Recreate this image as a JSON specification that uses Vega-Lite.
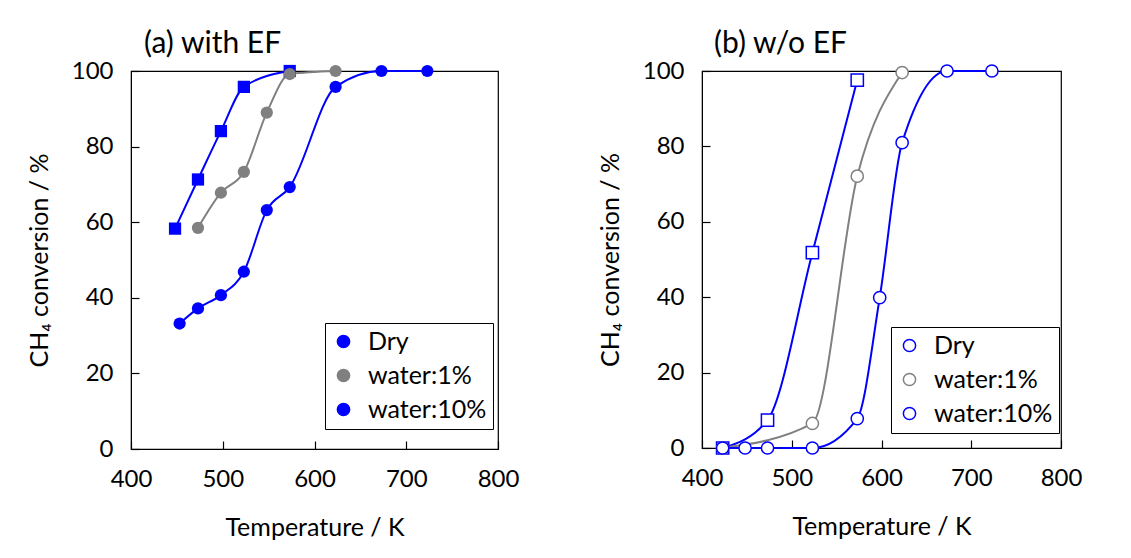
{
  "$schema": "https://vega.github.io/schema/vega-lite/v6.json",
  "background": "white",
  "padding": {"left": 26, "top": 28, "right": 5, "bottom": 5},
  "spacing": 77,
  "config": {
    "font": "Lato",
    "view": {"stroke": "black", "strokeWidth": 1.2},
    "axis": {
      "grid": false,
      "ticks": true,
      "domainColor": "black",
      "tickColor": "black",
      "tickWidth": 1.2,
      "tickSize": -8,
      "labelFlush": false,
      "labelFont": "Lato",
      "labelFontSize": 24,
      "labelColor": "black",
      "titleFont": "Lato",
      "titleFontSize": 25,
      "titleFontWeight": "normal",
      "titleColor": "black",
      "labelPadding": 26
    },
    "legend": {
      "labelFont": "Lato",
      "labelFontSize": 25,
      "labelColor": "black",
      "strokeColor": "black",
      "fillColor": "white",
      "padding": 6,
      "rowPadding": 8,
      "labelOffset": 12,
      "symbolSize": 150,
      "symbolStrokeWidth": 1.5,
      "cornerRadius": 0
    },
    "title": {"font": "Lato", "fontSize": 30, "fontWeight": "normal", "color": "black", "anchor": "start", "frame": "group"}
  },
  "datasets": {
    "withEF": [
      {"T": 448, "conv": 58.3, "series": "Dry"},
      {"T": 473, "conv": 71.3, "series": "Dry"},
      {"T": 498, "conv": 84.1, "series": "Dry"},
      {"T": 523, "conv": 95.8, "series": "Dry"},
      {"T": 573, "conv": 100, "series": "Dry"},
      {"T": 473, "conv": 58.5, "series": "water:1%"},
      {"T": 498, "conv": 67.8, "series": "water:1%"},
      {"T": 523, "conv": 73.3, "series": "water:1%"},
      {"T": 548, "conv": 89.0, "series": "water:1%"},
      {"T": 573, "conv": 99.2, "series": "water:1%"},
      {"T": 623, "conv": 100, "series": "water:1%"},
      {"T": 453, "conv": 33.2, "series": "water:10%"},
      {"T": 473, "conv": 37.2, "series": "water:10%"},
      {"T": 498, "conv": 40.7, "series": "water:10%"},
      {"T": 523, "conv": 46.9, "series": "water:10%"},
      {"T": 548, "conv": 63.2, "series": "water:10%"},
      {"T": 573, "conv": 69.3, "series": "water:10%"},
      {"T": 623, "conv": 95.8, "series": "water:10%"},
      {"T": 673, "conv": 100, "series": "water:10%"},
      {"T": 723, "conv": 100, "series": "water:10%"}
    ],
    "withoutEF": [
      {"T": 423, "conv": 0, "series": "Dry"},
      {"T": 473, "conv": 7.4, "series": "Dry"},
      {"T": 523, "conv": 51.8, "series": "Dry"},
      {"T": 573, "conv": 97.6, "series": "Dry"},
      {"T": 423, "conv": 0, "series": "water:1%"},
      {"T": 523, "conv": 6.5, "series": "water:1%"},
      {"T": 573, "conv": 72.1, "series": "water:1%"},
      {"T": 623, "conv": 99.6, "series": "water:1%"},
      {"T": 423, "conv": 0, "series": "water:10%"},
      {"T": 448, "conv": 0, "series": "water:10%"},
      {"T": 473, "conv": 0, "series": "water:10%"},
      {"T": 523, "conv": 0, "series": "water:10%"},
      {"T": 573, "conv": 7.8, "series": "water:10%"},
      {"T": 598, "conv": 39.9, "series": "water:10%"},
      {"T": 623, "conv": 81.0, "series": "water:10%"},
      {"T": 673, "conv": 100, "series": "water:10%"},
      {"T": 723, "conv": 100, "series": "water:10%"}
    ]
  },
  "hconcat": [
    {
      "width": 367,
      "height": 378,
      "title": {"text": "(a) with EF", "dx": 13, "offset": 0},
      "data": {"name": "withEF"},
      "encoding": {
        "x": {"field": "T", "type": "quantitative", "title": "Temperature / K",
              "scale": {"domain": [400, 800]}, "axis": {"values": [400, 500, 600, 700, 800], "titlePadding": 24}},
        "y": {"field": "conv", "type": "quantitative", "title": "CH₄ conversion / %",
              "scale": {"domain": [0, 100]}, "axis": {"values": [0, 20, 40, 60, 80, 100], "titlePadding": 19}},
        "color": {"field": "series", "type": "nominal",
                  "scale": {"range": ["#0000FF", "#808080", "#0000FF"]},
                  "legend": {"title": null, "orient": "none", "legendX": 194, "legendY": 252}}
      },
      "layer": [
        {
          "mark": {"type": "line", "interpolate": "monotone", "strokeWidth": 2}
        },
        {
          "mark": {"type": "point", "filled": true, "size": 150, "opacity": 1},
          "encoding": {
            "shape": {"field": "series", "type": "nominal", "legend": null,
                      "scale": {"domain": ["Dry", "water:1%", "water:10%"], "range": ["square", "circle", "circle"]}}
          }
        }
      ]
    },
    {
      "width": 359,
      "height": 377,
      "title": {"text": "(b) w/o EF", "dx": 12, "offset": 0},
      "data": {"name": "withoutEF"},
      "encoding": {
        "x": {"field": "T", "type": "quantitative", "title": "Temperature / K",
              "scale": {"domain": [400, 800]}, "axis": {"values": [400, 500, 600, 700, 800], "titlePadding": 24}},
        "y": {"field": "conv", "type": "quantitative", "title": "CH₄ conversion / %",
              "scale": {"domain": [0, 100]}, "axis": {"values": [0, 20, 40, 60, 80, 100], "titlePadding": 19}},
        "stroke": {"field": "series", "type": "nominal",
                  "scale": {"range": ["#0000FF", "#808080", "#0000FF"]},
                  "legend": {"title": null, "orient": "none", "legendX": 760, "legendY": 256}}
      },
      "layer": [
        {
          "mark": {"type": "line", "interpolate": "monotone", "strokeWidth": 2}
        },
        {
          "mark": {"type": "point", "filled": false, "fill": "white", "size": 150, "strokeWidth": 1.5, "opacity": 1},
          "encoding": {
            "shape": {"field": "series", "type": "nominal", "legend": null,
                      "scale": {"domain": ["Dry", "water:1%", "water:10%"], "range": ["square", "circle", "circle"]}}
          }
        }
      ]
    }
  ]
}
